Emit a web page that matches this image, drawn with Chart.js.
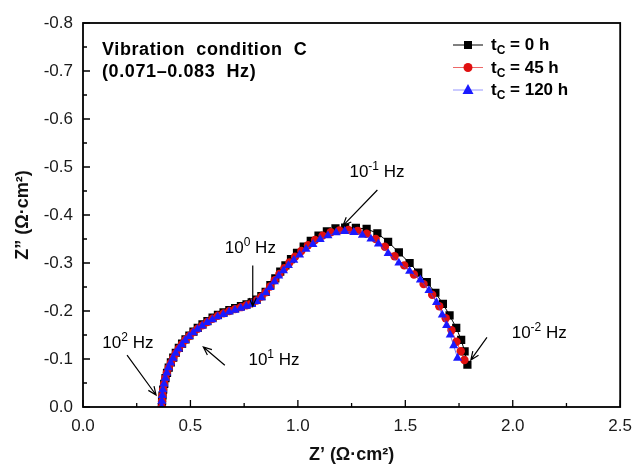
<!DOCTYPE html>
<html>
<head>
<meta charset="utf-8">
<script src="https://cdn.jsdelivr.net/npm/chart.js@4.4.1/dist/chart.umd.min.js"></script>
<style>
  body { margin: 0; background: #fff; }
  #wrap { width: 641px; height: 468px; }
</style>
</head>
<body>
<div id="wrap"><canvas id="eisChart"></canvas></div>
<script>
// Nyquist data, Z' (ohm cm2) and Z'' (ohm cm2, negative)
const zRe0h = [0.367, 0.368, 0.370, 0.373, 0.378, 0.384, 0.391, 0.399, 0.409, 0.420, 0.432, 0.446, 0.461, 0.477, 0.495, 0.514, 0.534, 0.556, 0.579, 0.603, 0.628, 0.654, 0.681, 0.708, 0.735, 0.761, 0.785, 0.808, 0.830, 0.850, 0.872, 0.895, 0.918, 0.942, 0.968, 0.996, 1.027, 1.060, 1.096, 1.135, 1.175, 1.220, 1.270, 1.320, 1.370, 1.420, 1.470, 1.520, 1.560, 1.600, 1.640, 1.675, 1.706, 1.737, 1.760, 1.776, 1.789];
const zIm0h = [0.000, -0.012, -0.024, -0.036, -0.048, -0.060, -0.071, -0.082, -0.093, -0.103, -0.113, -0.123, -0.132, -0.141, -0.149, -0.157, -0.165, -0.172, -0.179, -0.186, -0.192, -0.197, -0.202, -0.206, -0.210, -0.214, -0.218, -0.224, -0.231, -0.240, -0.254, -0.268, -0.282, -0.295, -0.308, -0.321, -0.334, -0.346, -0.357, -0.366, -0.372, -0.374, -0.373, -0.371, -0.362, -0.344, -0.322, -0.300, -0.280, -0.260, -0.238, -0.215, -0.191, -0.165, -0.140, -0.116, -0.088];

const zRe45h = [0.367, 0.368, 0.370, 0.373, 0.377, 0.383, 0.390, 0.399, 0.409, 0.420, 0.432, 0.446, 0.461, 0.477, 0.495, 0.514, 0.534, 0.556, 0.579, 0.603, 0.628, 0.654, 0.681, 0.708, 0.735, 0.761, 0.785, 0.808, 0.830, 0.851, 0.871, 0.892, 0.914, 0.937, 0.961, 0.987, 1.016, 1.047, 1.080, 1.115, 1.153, 1.193, 1.235, 1.278, 1.320, 1.362, 1.405, 1.450, 1.495, 1.540, 1.585, 1.625, 1.658, 1.688, 1.715, 1.738, 1.758, 1.775];
const zIm45h = [0.000, -0.012, -0.024, -0.036, -0.048, -0.060, -0.071, -0.082, -0.092, -0.102, -0.112, -0.122, -0.131, -0.140, -0.148, -0.156, -0.163, -0.170, -0.177, -0.184, -0.190, -0.195, -0.200, -0.204, -0.208, -0.212, -0.216, -0.222, -0.230, -0.239, -0.251, -0.264, -0.277, -0.289, -0.301, -0.313, -0.325, -0.337, -0.348, -0.357, -0.364, -0.368, -0.369, -0.367, -0.361, -0.350, -0.334, -0.314, -0.295, -0.276, -0.256, -0.234, -0.210, -0.185, -0.160, -0.136, -0.116, -0.098];

const zRe120h = [0.366, 0.367, 0.369, 0.372, 0.377, 0.383, 0.390, 0.398, 0.408, 0.419, 0.431, 0.445, 0.460, 0.476, 0.494, 0.513, 0.533, 0.555, 0.578, 0.602, 0.627, 0.653, 0.680, 0.707, 0.734, 0.760, 0.785, 0.808, 0.830, 0.851, 0.871, 0.891, 0.911, 0.933, 0.956, 0.981, 1.008, 1.038, 1.070, 1.104, 1.140, 1.178, 1.218, 1.260, 1.300, 1.340, 1.375, 1.420, 1.470, 1.520, 1.570, 1.610, 1.645, 1.672, 1.692, 1.709, 1.725, 1.743];
const zIm120h = [0.000, -0.012, -0.024, -0.036, -0.048, -0.060, -0.071, -0.082, -0.092, -0.102, -0.112, -0.121, -0.130, -0.139, -0.147, -0.155, -0.162, -0.169, -0.176, -0.182, -0.188, -0.193, -0.198, -0.202, -0.206, -0.210, -0.214, -0.220, -0.228, -0.238, -0.249, -0.261, -0.273, -0.284, -0.295, -0.306, -0.317, -0.329, -0.339, -0.349, -0.357, -0.363, -0.366, -0.364, -0.358, -0.350, -0.340, -0.320, -0.300, -0.283, -0.265, -0.243, -0.218, -0.192, -0.170, -0.150, -0.128, -0.102];

const seriesNames = ["0 h", "45 h", "120 h"];
const xTicks = [0.0, 0.5, 1.0, 1.5, 2.0, 2.5];
const yTicks = [0.0, -0.1, -0.2, -0.3, -0.4, -0.5, -0.6, -0.7, -0.8];

// frequency labels: "10^sup Hz" at a data position, with an arrow from -> to (data units)
const freqNotes = [
  { base: "10", sup: "2", at: [0.09, -0.122], from: [0.205, -0.108], to: [0.34, -0.025] },
  { base: "10", sup: "1", at: [0.77, -0.087], from: [0.66, -0.087], to: [0.56, -0.125] },
  { base: "10", sup: "0", at: [0.66, -0.32], from: [0.79, -0.295], to: [0.79, -0.21] },
  { base: "10", sup: "-1", at: [1.24, -0.48], from: [1.37, -0.452], to: [1.21, -0.378] },
  { base: "10", sup: "-2", at: [1.995, -0.143], from: [1.88, -0.145], to: [1.805, -0.098] }
];

const FONT = "'Liberation Sans', Arial, sans-serif";

function toPoints(xs, ys) {
  return xs.map((x, i) => ({ x: x, y: ys[i] }));
}

const legendColors = ["#000000", "#e01010", "#1a1aff"];
const legendMarks = ["rect", "circle", "triangle"];

const decorPlugin = {
  id: "decor",
  afterDraw(chart) {
    const ctx = chart.ctx;
    const area = chart.chartArea;
    const xs = chart.scales.x;
    const ys = chart.scales.y;
    ctx.save();

    // frame
    ctx.strokeStyle = "#000";
    ctx.lineWidth = 1.8;
    ctx.strokeRect(area.left, area.top, area.right - area.left, area.bottom - area.top);

    // inward ticks, major and minor
    ctx.lineWidth = 1.3;
    ctx.beginPath();
    for (let v = 0; v <= 2.5001; v += 0.25) {
      const px = xs.getPixelForValue(v);
      const len = Math.abs(v / 0.5 - Math.round(v / 0.5)) < 0.01 ? 7 : 4;
      ctx.moveTo(px, area.bottom);
      ctx.lineTo(px, area.bottom - len);
    }
    for (let v = 0; v >= -0.8001; v -= 0.05) {
      const py = ys.getPixelForValue(v);
      const len = Math.abs(v / 0.1 - Math.round(v / 0.1)) < 0.01 ? 7 : 4;
      ctx.moveTo(area.left, py);
      ctx.lineTo(area.left + len, py);
    }
    ctx.stroke();

    // condition text
    ctx.fillStyle = "#000";
    ctx.font = "bold 18px " + FONT;
    ctx.textBaseline = "alphabetic";
    ctx.letterSpacing = "0.6px";
    ctx.fillText("Vibration  condition  C", 102, 55);
    ctx.fillText("(0.071\u20130.083  Hz)", 102, 77);
    ctx.letterSpacing = "0px";

    // legend
    seriesNames.forEach((name, i) => {
      const y = 45 + i * 22.5;
      ctx.strokeStyle = i === 0 ? "#000" : (i === 1 ? "rgba(230,40,40,0.7)" : "rgba(80,80,255,0.6)");
      ctx.lineWidth = 1;
      ctx.beginPath();
      ctx.moveTo(453, y);
      ctx.lineTo(483, y);
      ctx.stroke();
      ctx.fillStyle = legendColors[i];
      ctx.beginPath();
      if (legendMarks[i] === "rect") {
        ctx.rect(464, y - 4, 8, 8);
      } else if (legendMarks[i] === "circle") {
        ctx.arc(468, y, 4.5, 0, Math.PI * 2);
      } else {
        ctx.moveTo(468, y - 6);
        ctx.lineTo(473.5, y + 4);
        ctx.lineTo(462.5, y + 4);
        ctx.closePath();
      }
      ctx.fill();
      ctx.fillStyle = "#000";
      ctx.font = "bold 17px " + FONT;
      let tx = 491;
      ctx.fillText("t", tx, y + 5);
      tx += ctx.measureText("t").width;
      ctx.font = "bold 12px " + FONT;
      ctx.fillText("C", tx, y + 9);
      tx += ctx.measureText("C").width;
      ctx.font = "bold 17px " + FONT;
      ctx.fillText(" = " + name, tx, y + 5);
    });

    // frequency notes and arrows
    freqNotes.forEach((n) => {
      let tx = xs.getPixelForValue(n.at[0]);
      const ty = ys.getPixelForValue(n.at[1]);
      ctx.fillStyle = "#000";
      ctx.font = "17px " + FONT;
      ctx.fillText(n.base, tx, ty);
      tx += ctx.measureText(n.base).width;
      ctx.font = "12px " + FONT;
      ctx.fillText(n.sup, tx, ty - 7);
      tx += ctx.measureText(n.sup).width;
      ctx.font = "17px " + FONT;
      ctx.fillText(" Hz", tx, ty);

      const x1 = xs.getPixelForValue(n.from[0]);
      const y1 = ys.getPixelForValue(n.from[1]);
      const x2 = xs.getPixelForValue(n.to[0]);
      const y2 = ys.getPixelForValue(n.to[1]);
      const ang = Math.atan2(y2 - y1, x2 - x1);
      ctx.strokeStyle = "#000";
      ctx.lineWidth = 1.2;
      ctx.beginPath();
      ctx.moveTo(x1, y1);
      ctx.lineTo(x2, y2);
      ctx.moveTo(x2 - 9 * Math.cos(ang - 0.4), y2 - 9 * Math.sin(ang - 0.4));
      ctx.lineTo(x2, y2);
      ctx.lineTo(x2 - 9 * Math.cos(ang + 0.4), y2 - 9 * Math.sin(ang + 0.4));
      ctx.stroke();
    });

    ctx.restore();
  }
};

const ctx = document.getElementById("eisChart").getContext("2d");
new Chart(ctx, {
  type: "scatter",
  data: {
    datasets: [
      {
        label: "tC = " + seriesNames[0],
        data: toPoints(zRe0h, zIm0h),
        showLine: true,
        borderColor: "#000000",
        borderWidth: 1,
        pointStyle: "rect",
        pointRadius: 5.8,
        pointBackgroundColor: "#000000",
        pointBorderColor: "#000000",
        pointBorderWidth: 0,
        order: 3
      },
      {
        label: "tC = " + seriesNames[1],
        data: toPoints(zRe45h, zIm45h),
        showLine: true,
        borderColor: "rgba(230,30,30,0.8)",
        borderWidth: 1,
        pointStyle: "circle",
        pointRadius: 4.2,
        pointBackgroundColor: "#e01010",
        pointBorderColor: "#e01010",
        pointBorderWidth: 0,
        order: 2
      },
      {
        label: "tC = " + seriesNames[2],
        data: toPoints(zRe120h, zIm120h),
        showLine: true,
        borderColor: "rgba(60,60,255,0.7)",
        borderWidth: 1,
        pointStyle: "triangle",
        pointRadius: 5.2,
        pointBackgroundColor: "#1a1aff",
        pointBorderColor: "#1a1aff",
        pointBorderWidth: 0,
        order: 1
      }
    ]
  },
  options: {
    responsive: true,
    maintainAspectRatio: false,
    animation: false,
    layout: { padding: { top: 23, right: 13, left: 0, bottom: 0 } },
    plugins: {
      legend: { display: false },
      tooltip: { enabled: false }
    },
    scales: {
      x: {
        type: "linear",
        min: 0,
        max: 2.5,
        afterFit: (s) => { s.height = 61; },
        afterBuildTicks: (s) => { s.ticks = xTicks.map((v) => ({ value: v })); },
        grid: { display: false, drawTicks: false },
        border: { display: false },
        ticks: {
          padding: 9,
          color: "#1a1a1a",
          font: { family: FONT, size: 17 },
          callback: (v) => v.toFixed(1)
        },
        title: {
          display: true,
          text: "Z\u2019 (\u03a9\u00b7cm\u00b2)",
          color: "#111",
          font: { family: FONT, size: 18, weight: "bold" },
          padding: { top: 0, bottom: 2 }
        }
      },
      y: {
        type: "linear",
        min: -0.8,
        max: 0,
        reverse: true,
        afterFit: (s) => { s.width = 83; },
        afterBuildTicks: (s) => { s.ticks = yTicks.map((v) => ({ value: v })); },
        grid: { display: false, drawTicks: false },
        border: { display: false },
        ticks: {
          padding: 10,
          color: "#1a1a1a",
          font: { family: FONT, size: 17 },
          callback: (v) => (Math.abs(v) < 1e-9 ? "0.0" : v.toFixed(1))
        },
        title: {
          display: true,
          text: "Z\u201d (\u03a9\u00b7cm\u00b2)",
          color: "#111",
          font: { family: FONT, size: 18, weight: "bold" },
          padding: { top: 12, bottom: 0 }
        }
      }
    }
  },
  plugins: [decorPlugin]
});
</script>
</body>
</html>
